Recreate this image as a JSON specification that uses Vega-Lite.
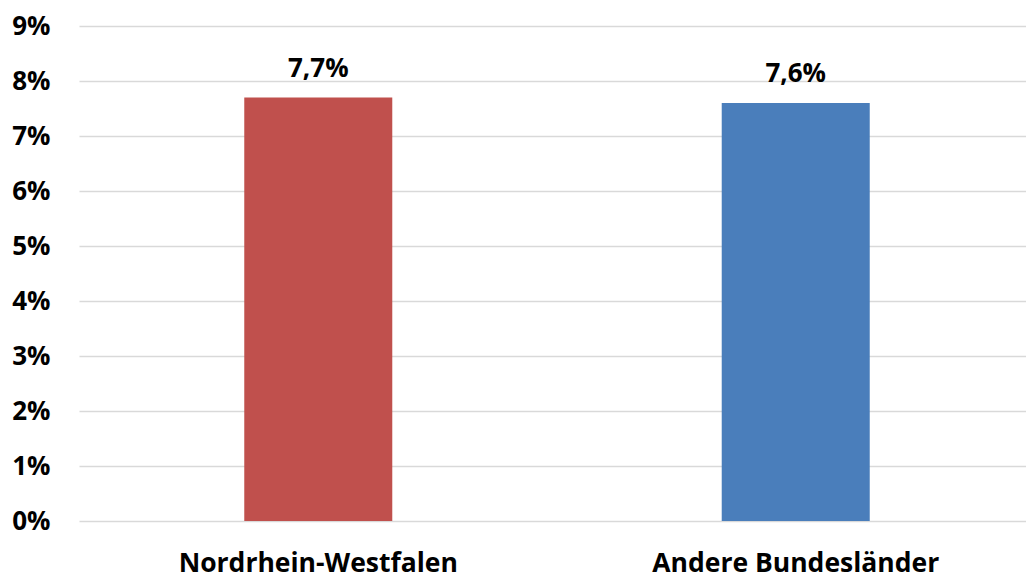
{
  "$schema": "https://vega.github.io/schema/vega-lite/v6.json",
  "width": 947,
  "height": 495,
  "autosize": "none",
  "padding": {"left": 79, "top": 26, "right": 0, "bottom": 58},
  "background": "white",
  "config": {"view": {"stroke": null}, "font": "Open Sans"},
  "data": {"values": [
    {"region": "Nordrhein-Westfalen", "value": 0.077, "label": "7,7%"},
    {"region": "Andere Bundesländer", "value": 0.076, "label": "7,6%"}
  ]},
  "encoding": {
    "x": {
      "field": "region", "type": "nominal", "sort": null,
      "scale": {"paddingInner": 0.69, "paddingOuter": 0.3367, "align": 0.514},
      "axis": {
        "title": null, "labelAngle": 0, "domain": false, "ticks": false, "tickSize": 0,
        "labelFont": "Open Sans", "labelFontSize": 26.5, "labelFontWeight": "bold", "labelLimit": 0,
        "labelColor": "#000000", "labelBaseline": "alphabetic", "labelPadding": 50
      }
    },
    "y": {
      "field": "value", "type": "quantitative",
      "scale": {"domain": [0, 0.09], "nice": false},
      "axis": {
        "title": null, "format": ".0%", "values": [0, 0.01, 0.02, 0.03, 0.04, 0.05, 0.06, 0.07, 0.08, 0.09],
        "domain": false, "ticks": false, "tickSize": 0, "labelPadding": 29,
        "labelFont": "Open Sans", "labelFontSize": 26, "labelFontWeight": "bold",
        "labelColor": "#000000", "gridColor": "#D9D9D9", "gridWidth": 1.3
      }
    }
  },
  "layer": [
    {
      "mark": {"type": "bar"},
      "encoding": {
        "color": {
          "field": "region", "type": "nominal", "legend": null,
          "scale": {"domain": ["Nordrhein-Westfalen", "Andere Bundesländer"], "range": ["#C0504D", "#4A7EBB"]}
        }
      }
    },
    {
      "mark": {"type": "text", "baseline": "alphabetic", "dy": -21, "font": "Open Sans", "fontSize": 26, "fontWeight": "bold", "color": "#000000"},
      "encoding": {"text": {"field": "label"}}
    }
  ]
}
